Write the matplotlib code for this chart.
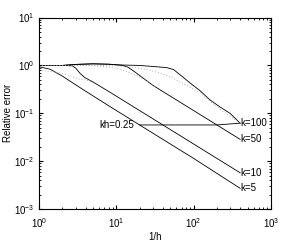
import matplotlib
matplotlib.use('Agg')
import matplotlib.pyplot as plt

plt.rcParams['font.family'] = ['Liberation Sans', 'DejaVu Sans']
plt.rcParams['font.size'] = 7

# solid curves: relative error vs 1/h
n_k5 = [1, 1.4, 2, 2.8, 4, 8, 20, 50, 100, 400]
e_k5 = [0.94, 0.83, 0.6, 0.42, 0.29, 0.143, 0.057, 0.0228, 0.0114, 0.0027]

n_k10 = [1, 2, 2.7, 3.0, 3.4, 3.9, 5, 8, 20, 40, 100, 400]
e_k10 = [1.0, 1.0, 0.98, 0.87, 0.68, 0.56, 0.45, 0.285, 0.114, 0.057, 0.0228, 0.0057]

n_k50 = [1, 2, 3, 5, 8, 12, 14, 17, 22, 30, 50, 100, 200, 400]
e_k50 = [1.0, 1.0, 1.05, 1.08, 1.06, 1.0, 0.93, 0.75, 0.55, 0.38, 0.228, 0.114, 0.057, 0.0285]

n_k100 = [1, 2, 3, 5, 8, 12, 20, 30, 45, 55, 70, 90, 120, 163, 220, 296, 400]
e_k100 = [1.0, 1.0, 1.05, 1.08, 1.06, 1.02, 1.0, 0.95, 0.9, 0.82, 0.6, 0.43, 0.3, 0.19, 0.135, 0.1, 0.062]

# dotted curves
n_d10 = [1, 1.5, 2, 2.6, 3.2, 4, 5]
e_d10 = [0.78, 0.74, 0.68, 0.6, 0.52, 0.5, 0.45]

n_d50 = [1, 4, 7, 10, 14, 19, 25, 32]
e_d50 = [1.0, 1.0, 0.95, 0.87, 0.74, 0.6, 0.47, 0.36]

n_d100 = [1, 6, 10, 15, 20, 28, 37, 50, 67, 90, 120, 150, 220, 300, 400]
e_d100 = [1.0, 1.0, 0.98, 0.93, 0.87, 0.78, 0.69, 0.58, 0.45, 0.35, 0.27, 0.2, 0.12, 0.085, 0.062]

# kh = 0.25 line
n_kh = [20, 40, 200, 400]
e_kh = [0.057, 0.057, 0.057, 0.062]

labels = ['k=100', 'k=50', 'k=10', 'k=5']

fig = plt.figure(figsize=(3.0, 2.41), dpi=100)
ax = fig.add_axes([0.13, 0.133, 0.773, 0.794])

for n, e in [(n_k5, e_k5), (n_k10, e_k10), (n_k50, e_k50), (n_k100, e_k100)]:
    ax.plot(n, e, color='black', lw=0.6)
for n, e in [(n_d10, e_d10), (n_d50, e_d50), (n_d100, e_d100)]:
    ax.plot(n, e, color='#999999', lw=0.6, ls=(0, (1, 2.5)))
ax.plot(n_kh, e_kh, color='black', lw=0.6)

ends = [e_k100[-1], e_k50[-1], e_k10[-1], e_k5[-1]]
for lab, e in zip(labels, ends):
    ax.text(405, e, lab, ha='left', va='center')
ax.text(17, 0.058, 'kh=0.25', ha='right', va='center')

ax.set_xscale('log')
ax.set_yscale('log')
ax.set_xlim(1, 1000)
ax.set_ylim(1e-3, 10)
ax.tick_params(which='both', direction='in', top=True, right=True)
ax.tick_params(axis='x', pad=5)
ax.tick_params(axis='y', pad=3)
ax.tick_params(which='major', length=3)
ax.tick_params(which='minor', length=1.5)
ax.set_xlabel('1/h', labelpad=2)
ax.set_ylabel('Relative error', labelpad=1)

plt.savefig('out.png', dpi=100)
